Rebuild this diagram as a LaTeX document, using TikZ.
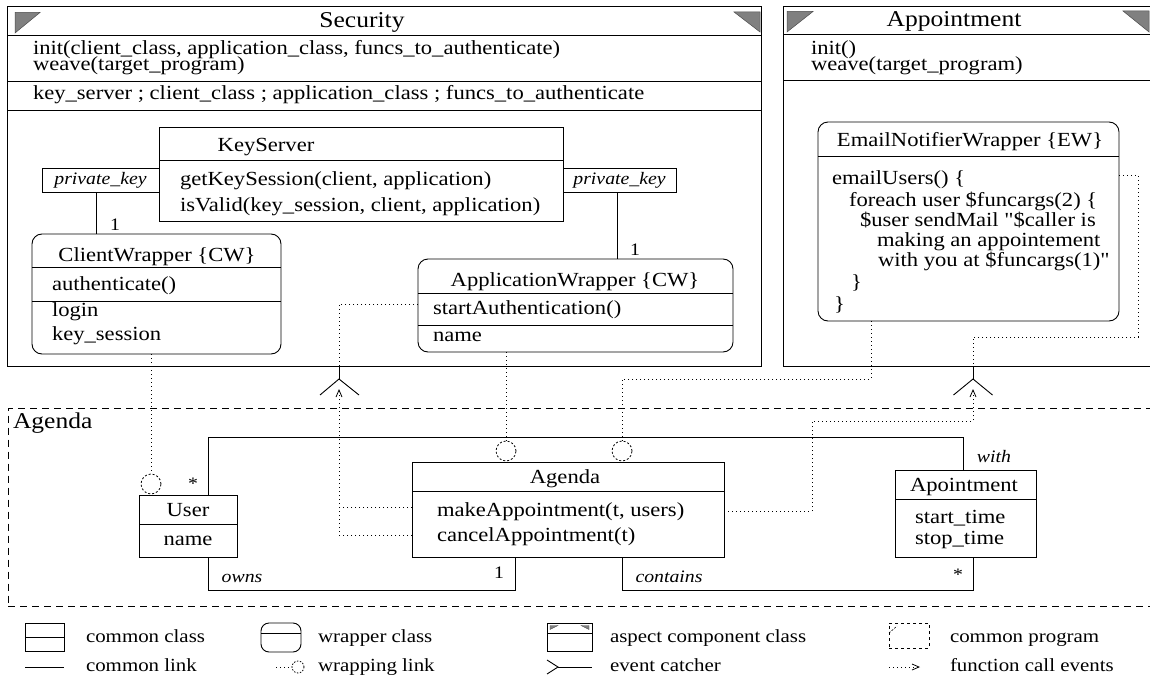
\documentclass[tikz,border=0pt]{standalone}
\usepackage{fontspec}
\setmainfont{Liberation Serif}[FakeStretch=1.13, Ligatures=TeXOff]
\usetikzlibrary{arrows.meta,calc}
\tikzset{
  body/.style={inner sep=0pt, outer sep=0pt, font=\fontsize{20}{15}\selectfont},
  ttl/.style={inner sep=0pt, outer sep=0pt, font=\fontsize{22.6}{18}\selectfont},
  ital/.style={inner sep=0pt, outer sep=0pt, font=\fontsize{17.5}{15}\selectfont\itshape},
  mult/.style={inner sep=0pt, outer sep=0pt, font=\fontsize{17.5}{15}\selectfont},
  leg/.style={inner sep=0pt, outer sep=0pt, font=\fontsize{18.5}{15}\selectfont},
  box/.style={draw, line width=0.9pt, inner sep=0pt, outer sep=0pt, anchor=north west},
  wbox/.style={box, rounded corners=10pt},
  sep/.style={line width=0.9pt},
  tri/.style={fill=gray, draw=black!70, line width=0.5pt},
  cl/.style={line width=0.9pt},
  wl/.style={line width=0.9pt, dash pattern=on 1pt off 3pt},
  fc/.style={line width=0.9pt, dash pattern=on 1pt off 3pt},
  fctip/.style={-{Straight Barb[length=7pt,width=6pt,line width=0.8pt]}},
  wcirc/.style={circle, draw, line width=0.8pt, dash pattern=on 2pt off 2pt, minimum size=20pt, inner sep=0pt},
  region/.style={draw, line width=0.9pt, dash pattern=on 7pt off 5pt, inner sep=0pt, outer sep=0pt, anchor=north west},
}
\begin{document}
\begin{tikzpicture}[x=1pt,y=-1pt]
\useasboundingbox[fill=white] (0,0) rectangle (1150,682);

% ---------- Security aspect component ----------
\node[box, minimum width=753.5pt, minimum height=360pt] (security) at (7.5,6) {};
\draw[sep] (security.west |- 0,35) -- (security.east |- 0,35);
\draw[sep] (security.west |- 0,81) -- (security.east |- 0,81);
\draw[sep] (security.west |- 0,110) -- (security.east |- 0,110);
\draw[tri] (15,12.5) -- (40,12.5) -- (15,33) -- cycle;
\draw[tri] (734,12) -- (760,12) -- (760,32) -- cycle;
\node[ttl, anchor=base] (secT) at (362,27.5) {Security};
\node[body, anchor=base west] (secM1) at (33,55) {init(client\_class, application\_class, funcs\_to\_authenticate)};
\node[body, anchor=base west] (secM2) at (33,70.5) {weave(target\_program)};
\node[body, anchor=base west] (secA) at (33,100) {key\_server ; client\_class ; application\_class ; funcs\_to\_authenticate};

% KeyServer
\node[box, minimum width=404pt, minimum height=94pt] (ks) at (159,127) {};
\draw[sep] (ks.west |- 0,160) -- (ks.east |- 0,160);
\node[body, anchor=base] (ksT) at (266,151) {KeyServer};
\node[body, anchor=base west] (ks1) at (180,185) {getKeySession(client, application)};
\node[body, anchor=base west] (ks2) at (180,211.5) {isValid(key\_session, client, application)};

% qualifiers
\node[box, minimum width=117pt, minimum height=24pt] (pk1) at (42,168) {};
\node[ital] (pk1t) at (pk1.center) {private\_key};
\node[box, minimum width=113pt, minimum height=24pt] (pk2) at (563,168) {};
\node[ital] (pk2t) at (pk2.center) {private\_key};

% ClientWrapper
\node[wbox, minimum width=249pt, minimum height=120pt] (cw) at (32,234) {};
\draw[sep] (cw.west |- 0,267) -- (cw.east |- 0,267);
\draw[sep] (cw.west |- 0,301) -- (cw.east |- 0,301);
\node[body, anchor=base] (cwT) at (157,261.5) {ClientWrapper \{CW\}};
\node[body, anchor=base west] (cw1) at (52,290) {authenticate()};
\node[body, anchor=base west] (cw2) at (52,316.5) {login};
\node[body, anchor=base west] (cw3) at (52,340) {key\_session};

% ApplicationWrapper
\node[wbox, minimum width=315pt, minimum height=93pt] (aw) at (418,259) {};
\draw[sep] (aw.west |- 0,293) -- (aw.east |- 0,293);
\draw[sep] (aw.west |- 0,325) -- (aw.east |- 0,325);
\node[body, anchor=base] (awT) at (575,286.5) {ApplicationWrapper \{CW\}};
\node[body, anchor=base west] (aw1) at (433,314) {startAuthentication()};
\node[body, anchor=base west] (aw2) at (433,341.5) {name};

% links inside Security
\draw[cl] (pk1.south -| 96,0) -- (cw.north -| 96,0);
\node[mult] (m1) at (115,225) {1};
\draw[cl] (pk2.south -| 617,0) -- (aw.north -| 617,0);
\node[mult] (m2) at (635,250) {1};

% ---------- Appointment aspect component ----------
\node[box, minimum width=368pt, minimum height=360.5pt] (app) at (783,6) {};
\draw[sep] (app.west |- 0,34.5) -- (app.east |- 0,34.5);
\draw[sep] (app.west |- 0,80) -- (app.east |- 0,80);
\draw[tri] (787,11.5) -- (813,11.5) -- (787,32) -- cycle;
\draw[tri] (1123,11) -- (1149,11) -- (1149,32) -- cycle;
\node[ttl, anchor=base] (appT) at (954,26.5) {Appointment};
\node[body, anchor=base west] (appM1) at (811,55) {init()};
\node[body, anchor=base west] (appM2) at (811,70.5) {weave(target\_program)};

% EmailNotifierWrapper
\node[wbox, minimum width=301pt, minimum height=199pt] (ew) at (818,122) {};
\draw[sep] (ew.west |- 0,156) -- (ew.east |- 0,156);
\node[body, anchor=base] (ewT) at (970,146.5) {EmailNotifierWrapper \{EW\}};
\node[body, anchor=base west] (ew1) at (832,184.5) {emailUsers() \{};
\node[body, anchor=base west] (ew2) at (849,206) {foreach user \$funcargs(2) \{};
\node[body, anchor=base west] (ew3) at (860,226.5) {\$user sendMail "\$caller is};
\node[body, anchor=base west] (ew4) at (877,246.5) {making an appointement};
\node[body, anchor=base west] (ew5) at (878,266.5) {with you at \$funcargs(1)"};
\node[body, anchor=base west] (ew6) at (851,288) {\}};
\node[body, anchor=base west] (ew7) at (834,310) {\}};

% ---------- Agenda common program ----------
\node[region, minimum width=1145pt, minimum height=198.5pt] (agr) at (8,408) {};
\node[ttl, anchor=base west] (agrT) at (13,428) {Agenda};

\node[box, minimum width=98pt, minimum height=62pt] (user) at (139,495) {};
\draw[sep] (user.west |- 0,524) -- (user.east |- 0,524);
\node[body, anchor=base] (userT) at (user.center |- 0,516) {User};
\node[body, anchor=base] (user1) at (user.center |- 0,545) {name};

\node[box, minimum width=312pt, minimum height=95pt] (ag) at (412,462) {};
\draw[sep] (ag.west |- 0,491) -- (ag.east |- 0,491);
\node[body, anchor=base] (agT) at (565,483.5) {Agenda};
\node[body, anchor=base west] (ag1) at (437,516) {makeAppointment(t, users)};
\node[body, anchor=base west] (ag2) at (437,541) {cancelAppointment(t)};

\node[box, minimum width=141pt, minimum height=87pt] (apo) at (895,470) {};
\draw[sep] (apo.west |- 0,499.5) -- (apo.east |- 0,499.5);
\node[body, anchor=base] (apoT) at (964,491) {Apointment};
\node[body, anchor=base west] (apo1) at (915,523) {start\_time};
\node[body, anchor=base west] (apo2) at (915,544) {stop\_time};

% common links
\draw[cl] (user.north -| 208,0) -- (208,437) -| (apo.north -| 963,0);
\node[mult] (mstar1) at (193,484) {*};
\node[ital] (mwith) at (994,457) {with};
\draw[cl] (user.south -| 208,0) -- (208,590) -| (ag.south -| 515,0);
\node[ital] (mowns) at (242,578) {owns};
\node[mult] (m3) at (499,573) {1};
\draw[cl] (ag.south -| 622,0) -- (622,590) -| (apo.south -| 973,0);
\node[ital] (mcont) at (669,577) {contains};
\node[mult] (mstar2) at (958,575) {*};

% wrapping circles and links
\node[wcirc] (c1) at (151,484) {};
\node[wcirc] (c2) at (506,451) {};
\node[wcirc] (c3) at (622,451) {};
\draw[wl] (cw.south -| c1) -- (c1.north);
\draw[wl] (aw.south -| c2) -- (c2.north);
\draw[wl] (ew.south -| 871,0) -- (871,379) -| (c3.north);

% event catchers
\coordinate (ec1) at (339,379);
\coordinate (ec2) at (973,379);
\draw[cl] (security.south -| ec1) -- (ec1);
\draw[cl] (320,395) -- (ec1) -- (359,395);
\draw[cl] (app.south -| ec2) -- (ec2);
\draw[cl] (953.5,395) -- (ec2) -- (992.5,395);

% wrapper-to-event-catcher dotted links
\draw[wl] (aw.west |- 0,304) -- (339,304) -- (security.south -| ec1);
\draw[wl] (ew.east |- 0,175) -- (1138,175) -- (1138,337) -| (app.south -| ec2);

% function call events
\coordinate (ft1) at (339,389);
\coordinate (ft2) at (973,389);
\draw[fc, fctip] (ag.west |- 0,535) -| (ft1);
\draw[fc] (ag.west |- 0,507) -- (339,507);
\draw[fc, fctip] (ag.east |- 0,511) -- (812,511) -- (812,421) -| (ft2);

% ---------- legend ----------
\node[box, minimum width=39pt, minimum height=28pt] (lg1) at (25,623) {};
\draw[sep] (lg1.west |- 0,637) -- (lg1.east |- 0,637);
\node[leg, anchor=base west] (lg1t) at (86,642) {common class};

\node[box, rounded corners=8pt, minimum width=40pt, minimum height=29pt] (lg2) at (261,623) {};
\draw[sep] (lg2.west |- 0,633) -- (lg2.east |- 0,633);
\node[leg, anchor=base west] (lg2t) at (318,642) {wrapper class};

\node[box, minimum width=45pt, minimum height=28pt] (lg3) at (547,623) {};
\draw[sep] (lg3.west |- 0,633) -- (lg3.east |- 0,633);
\draw[tri, line width=0.3pt] (550,625.5) -- (558,625.5) -- (550,629.5) -- cycle;
\draw[tri, line width=0.3pt] (581,625.5) -- (589,625.5) -- (589,629.5) -- cycle;
\node[leg, anchor=base west] (lg3t) at (610,642) {aspect component class};

\node[region, dash pattern=on 3pt off 3pt, minimum width=40pt, minimum height=25pt] (lg4) at (889,623) {};
\draw[line width=0.6pt, dash pattern=on 2pt off 1.5pt] (889,633) -- (897,626);
\node[leg, anchor=base west] (lg4t) at (950,642) {common program};

\coordinate (lg5a) at (25,667);
\coordinate (lg5b) at (64,667);
\draw[cl] (lg5a) -- (lg5b);
\node[leg, anchor=base west] (lg5t) at (86,671) {common link};

\node[wcirc, minimum size=12pt, dash pattern=on 1.5pt off 1.5pt] (lg6c) at (298,667) {};
\coordinate (lg6a) at (276,667);
\draw[wl] (lg6a) -- (lg6c.west);
\node[leg, anchor=base west] (lg6t) at (318,671) {wrapping link};

\coordinate (lg7a) at (558,667);
\coordinate (lg7b) at (592,667);
\draw[cl] (547,660) -- (lg7a) -- (547,674);
\draw[cl] (lg7a) -- (lg7b);
\node[leg, anchor=base west] (lg7t) at (610,671) {event catcher};

\coordinate (lg8a) at (889,667);
\coordinate (lg8b) at (920,667);
\draw[fc, fctip] (lg8a) -- (lg8b);
\node[leg, anchor=base west] (lg8t) at (950,671) {function call events};
\end{tikzpicture}
\end{document}
